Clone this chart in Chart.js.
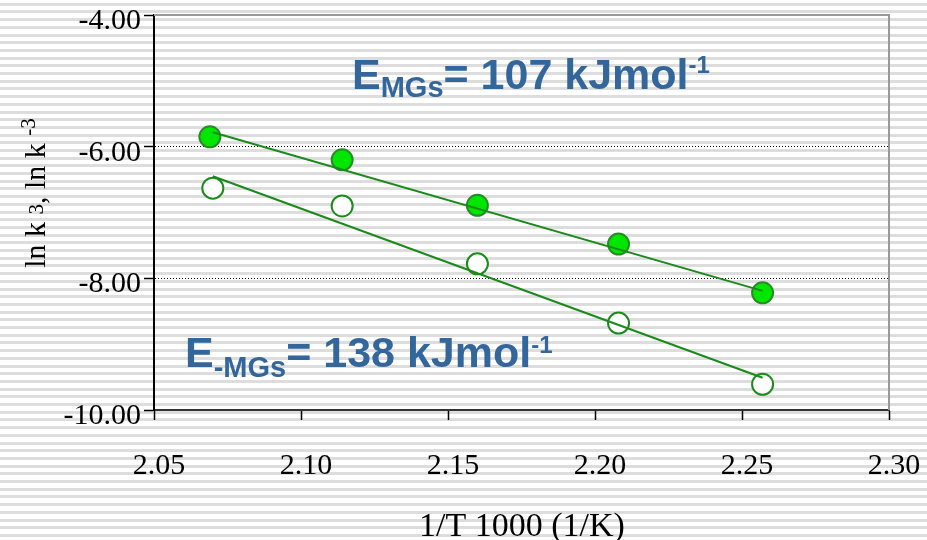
<!DOCTYPE html>
<html>
<head>
<meta charset="utf-8">
<script src="https://cdn.jsdelivr.net/npm/chart.js@4"></script>
<style>
  html, body { margin: 0; padding: 0; background: #fff; }
  #wrap { width: 927px; height: 540px; }
</style>
</head>
<body>
<div id="wrap"><canvas id="arrChart" width="927" height="540"></canvas></div>
<script>
// 1/T * 1000 values and ln k readings
const xForward = [2.069, 2.114, 2.160, 2.208, 2.257];
const lnK3 = [-5.85, -6.20, -6.89, -7.48, -8.22];
const xReverse = [2.070, 2.114, 2.160, 2.208, 2.257];
const lnKm3 = [-6.63, -6.90, -7.78, -8.68, -9.61];
// trendline ends
const fitX = [2.070, 2.257];
const fitForward = [-5.78, -8.19];
const fitReverse = [-6.45, -9.51];
const xTicks = [2.05, 2.10, 2.15, 2.20, 2.25, 2.30];
const yTicks = [-10, -8, -6, -4];

const toPts = (xs, ys) => xs.map((x, i) => ({ x: x, y: ys[i] }));
const serif = '"Liberation Serif", "Times New Roman", serif';
const sans = '"Liberation Sans", Arial, sans-serif';
const blue = '#33669a';

function drawRich(c, parts, x, y) {
    let cx = x;
    parts.forEach(p => {
        c.font = (p.bold ? 'bold ' : '') + p.size + 'px ' + p.fam;
        c.fillText(p.t, cx, y + (p.dy || 0));
        cx += c.measureText(p.t).width;
    });
    return cx - x;
}

const stripes = {
    id: 'stripes',
    beforeDraw(chart) {
        const c = chart.ctx;
        c.save();
        c.fillStyle = '#fff';
        c.fillRect(0, 0, chart.width, chart.height);
        c.fillStyle = '#dddddd';
        for (let y = 2.7; y < chart.height; y += 7.7) {
            c.fillRect(0, Math.round(y), chart.width, 3);
        }
        c.restore();
    }
};

const extras = {
    id: 'extras',
    beforeDatasetsDraw(chart) {
        const c = chart.ctx, a = chart.chartArea;
        c.save();
        c.strokeStyle = '#999';
        c.lineWidth = 2;
        c.beginPath();
        c.moveTo(a.left, a.top);
        c.lineTo(a.right, a.top);
        c.lineTo(a.right, a.bottom);
        c.stroke();
        c.restore();
    },
    afterDraw(chart) {
        const c = chart.ctx;
        c.save();
        c.fillStyle = blue;
        c.textBaseline = 'alphabetic';
        drawRich(c, [
            { t: 'E', size: 43, fam: sans, bold: true },
            { t: 'MGs', size: 29, fam: sans, bold: true, dy: 8 },
            { t: '= 107 kJmol', size: 43, fam: sans, bold: true },
            { t: '-1', size: 24, fam: sans, bold: true, dy: -16 }
        ], 352, 89);
        drawRich(c, [
            { t: 'E', size: 43, fam: sans, bold: true },
            { t: '-MGs', size: 29, fam: sans, bold: true, dy: 10 },
            { t: '= 138 kJmol', size: 43, fam: sans, bold: true },
            { t: '-1', size: 24, fam: sans, bold: true, dy: -14 }
        ], 185, 367);

        // axis titles
        c.fillStyle = '#000';
        c.font = '34px ' + serif;
        c.textAlign = 'center';
        c.fillText('1/T 1000 (1/K)', 522, 536);
        c.textAlign = 'left';
        const yParts = [
            { t: 'ln k ', size: 30, fam: serif },
            { t: '3', size: 21, fam: serif, dy: -2 },
            { t: ', ln k ', size: 30, fam: serif },
            { t: '-3', size: 21, fam: serif, dy: -10 }
        ];
        c.translate(45, 193);
        c.rotate(-Math.PI / 2);
        let w = 0;
        yParts.forEach(p => { c.font = p.size + 'px ' + serif; w += c.measureText(p.t).width; });
        drawRich(c, yParts, -w / 2, 0);
        c.restore();
    }
};

const ctx = document.getElementById('arrChart').getContext('2d');

new Chart(ctx, {
    type: 'scatter',
    data: {
        datasets: [{
            data: toPts(fitX, fitForward),
            showLine: true,
            borderColor: '#1a8a1a',
            borderWidth: 2,
            pointRadius: 0
        }, {
            data: toPts(fitX, fitReverse),
            showLine: true,
            borderColor: '#1a8a1a',
            borderWidth: 2,
            pointRadius: 0
        }, {
            label: 'ln k3',
            data: toPts(xForward, lnK3),
            pointRadius: 10.5,
            pointBackgroundColor: '#00e600',
            pointBorderColor: '#2a8a2a',
            pointBorderWidth: 2
        }, {
            label: 'ln k-3',
            data: toPts(xReverse, lnKm3),
            pointRadius: 10.5,
            pointBackgroundColor: '#fff',
            pointBorderColor: '#1a8c1a',
            pointBorderWidth: 2
        }]
    },
    options: {
        responsive: false,
        animation: false,
        layout: { padding: { left: 0, right: 38, top: 15, bottom: 0 } },
        plugins: { legend: { display: false }, tooltip: { enabled: false } },
        scales: {
            x: {
                type: 'linear',
                min: 2.05, max: 2.30,
                afterBuildTicks: s => { s.ticks = xTicks.map(v => ({ value: v })); },
                afterFit: s => { s.height = 130; s.paddingLeft = 0; s.paddingRight = 0; },
                ticks: {
                    color: '#000',
                    font: { family: serif, size: 30 },
                    padding: 28,
                    labelOffset: 5,
                    maxRotation: 0,
                    autoSkip: false,
                    callback: v => v.toFixed(2)
                },
                grid: { drawOnChartArea: false, tickLength: 10, tickColor: '#000', tickWidth: 1.5 },
                border: { color: '#333', width: 2 }
            },
            y: {
                min: -10, max: -4,
                afterBuildTicks: s => { s.ticks = yTicks.map(v => ({ value: v })); },
                afterFit: s => { s.width = 154; s.paddingTop = 0; s.paddingBottom = 0; },
                ticks: {
                    color: '#000',
                    font: { family: serif, size: 30, lineHeight: 1 },
                    padding: 3,
                    labelOffset: 6,
                    autoSkip: false,
                    callback: v => v.toFixed(2)
                },
                grid: {
                    color: c => (c.tick && (c.tick.value === -6 || c.tick.value === -8)) ? '#000' : 'rgba(0,0,0,0)',
                    lineWidth: 1,
                    tickLength: 10,
                    tickColor: '#000',
                    tickBorderDash: [],
                    tickWidth: 1.5
                },
                border: { color: '#000', width: 2, dash: [1, 2] }
            }
        }
    },
    plugins: [stripes, extras]
});
</script>
</body>
</html>
